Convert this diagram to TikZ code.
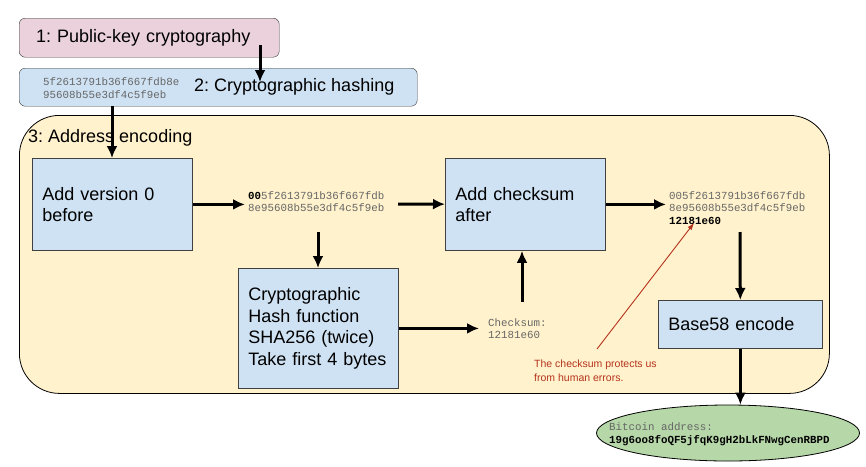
\documentclass[tikz,border=0pt]{standalone}
\usepackage{fontspec}
\setmainfont{Liberation Sans}
\setmonofont{Liberation Mono}
\usetikzlibrary{arrows.meta, positioning, shapes.geometric}
\definecolor{kPink}{HTML}{EAD1DC}
\definecolor{kBlue}{HTML}{CFE2F3}
\definecolor{kYellow}{HTML}{FFF2CC}
\definecolor{kGreen}{HTML}{B6D7A8}
\definecolor{kCode}{HTML}{666666}
\definecolor{kRed}{HTML}{B5321C}
\newcommand{\bigtxt}{\fontsize{18}{21.5}\selectfont}
\newcommand{\codetxt}{\ttfamily\fontsize{10.8}{12.5}\selectfont}
\frenchspacing

\begin{document}
\begin{tikzpicture}[x=1pt, y=-1pt,
    block/.style={draw=black!75, line width=0.8pt, fill=kBlue, anchor=north west,
      minimum width=160pt, minimum height=92pt, text width=140pt, inner xsep=10pt,
      align=left, font=\bigtxt},
    code/.style={anchor=north west, inner sep=0pt, align=left, text=kCode, font=\codetxt},
    flow/.style={-{Latex[length=12pt, width=11pt]}, line width=3pt},
    note/.style={kRed, line width=0.9pt},
  ]
  \useasboundingbox (0,0) rectangle (866,466);

  % 1 and 2
  \node[draw=black!80, fill=kPink, rounded corners=6pt, anchor=north west,
    minimum width=260pt, minimum height=39pt, text width=226pt, inner xsep=17pt,
    align=left, font=\bigtxt] (pubkey) at (19,18) {1: Public-key cryptography};
  \node[draw=black!80, fill=kBlue, rounded corners=6pt, anchor=north west,
    minimum width=398pt, minimum height=38pt] (hashing) at (19,68) {};
  \node[code, anchor=west] (pubhash) at (43,88) {5f2613791b36f667fdb8e\\95608b55e3df4c5f9eb};
  \node[anchor=west, inner sep=0pt, font=\bigtxt] (hashname) at (194,87) {2: Cryptographic hashing};
  \coordinate (k1) at (260,45);
  \coordinate (k2) at (260,82);
  \draw[flow] (k1) -- (k2);

  % 3
  \node[draw=black, line width=0.8pt, fill=kYellow, rounded corners=40pt, anchor=north west,
    minimum width=810pt, minimum height=278pt] (encoding) at (19,115) {};
  \node[anchor=north west, inner sep=0pt, font=\bigtxt] (encname) at (28,129) {3: Address encoding};

  \node[block] (version) at (32,158) {Add version 0\\before};
  \node[code] (vertext) at (248,191) {\textbf{\color{black}00}5f2613791b36f667fdb\\8e95608b55e3df4c5f9eb};
  \node[block] (addsum) at (445,158) {Add checksum\\after};
  \node[code] (sumtext) at (669,191) {005f2613791b36f667fdb\\8e95608b55e3df4c5f9eb\\\textbf{\color{black}12181e60}};
  \node[block, minimum height=120pt] (hash) at (238,268) {Cryptographic\\Hash function\\SHA256 (twice)\\Take first 4 bytes};
  \node[code] (sumval) at (488,318) {Checksum:\\12181e60};
  \node[block, minimum width=164pt, minimum height=48pt, text width=144pt] (base58) at (658,300) {Base58 encode};
  \node[ellipse, draw=black, line width=0.8pt, fill=kGreen, minimum width=263pt,
    minimum height=56pt, inner sep=0pt] (address) at (728,433) {};
  \node[code, anchor=west] (addrtext) at (609,434) {Bitcoin address:\\\textbf{\color{black}19g6oo8foQF5jfqK9gH2bLkFNwgCenRBPD}};

  \node[anchor=north west, inner sep=0pt, align=left, text=kRed,
    font=\fontsize{10.5}{14}\selectfont] (warn) at (534,360) {The checksum protects us\\from human errors.};
  \coordinate (w1) at (597,349);
  \coordinate (w2) at (694,223);
  \draw[note, -{Latex[length=7pt, width=5pt]}] (w1) -- (w2);

  % arrows
  \coordinate (h1) at (112,106);
  \coordinate (v1) at (398,204);
  \coordinate (v2) at (318,232);
  \coordinate (c1) at (522,302);
  \coordinate (s1) at (740,232);
  \draw[flow] (h1) -- (h1 |- version.north);
  \draw[flow, shorten >=3pt] (version) -- (version -| vertext.west);
  \draw[flow] (v1) -- (addsum);
  \draw[flow, shorten >=3pt] (addsum) -- (addsum -| sumtext.west);
  \draw[flow] (v2) -- (v2 |- hash.north);
  \draw[flow, shorten >=9pt] (hash) -- (hash -| sumval.west);
  \draw[flow] (c1) -- (c1 |- addsum.south);
  \draw[flow] (s1) -- (base58);
  \draw[flow] (base58) -- (base58 |- address.north);
\end{tikzpicture}
\end{document}
